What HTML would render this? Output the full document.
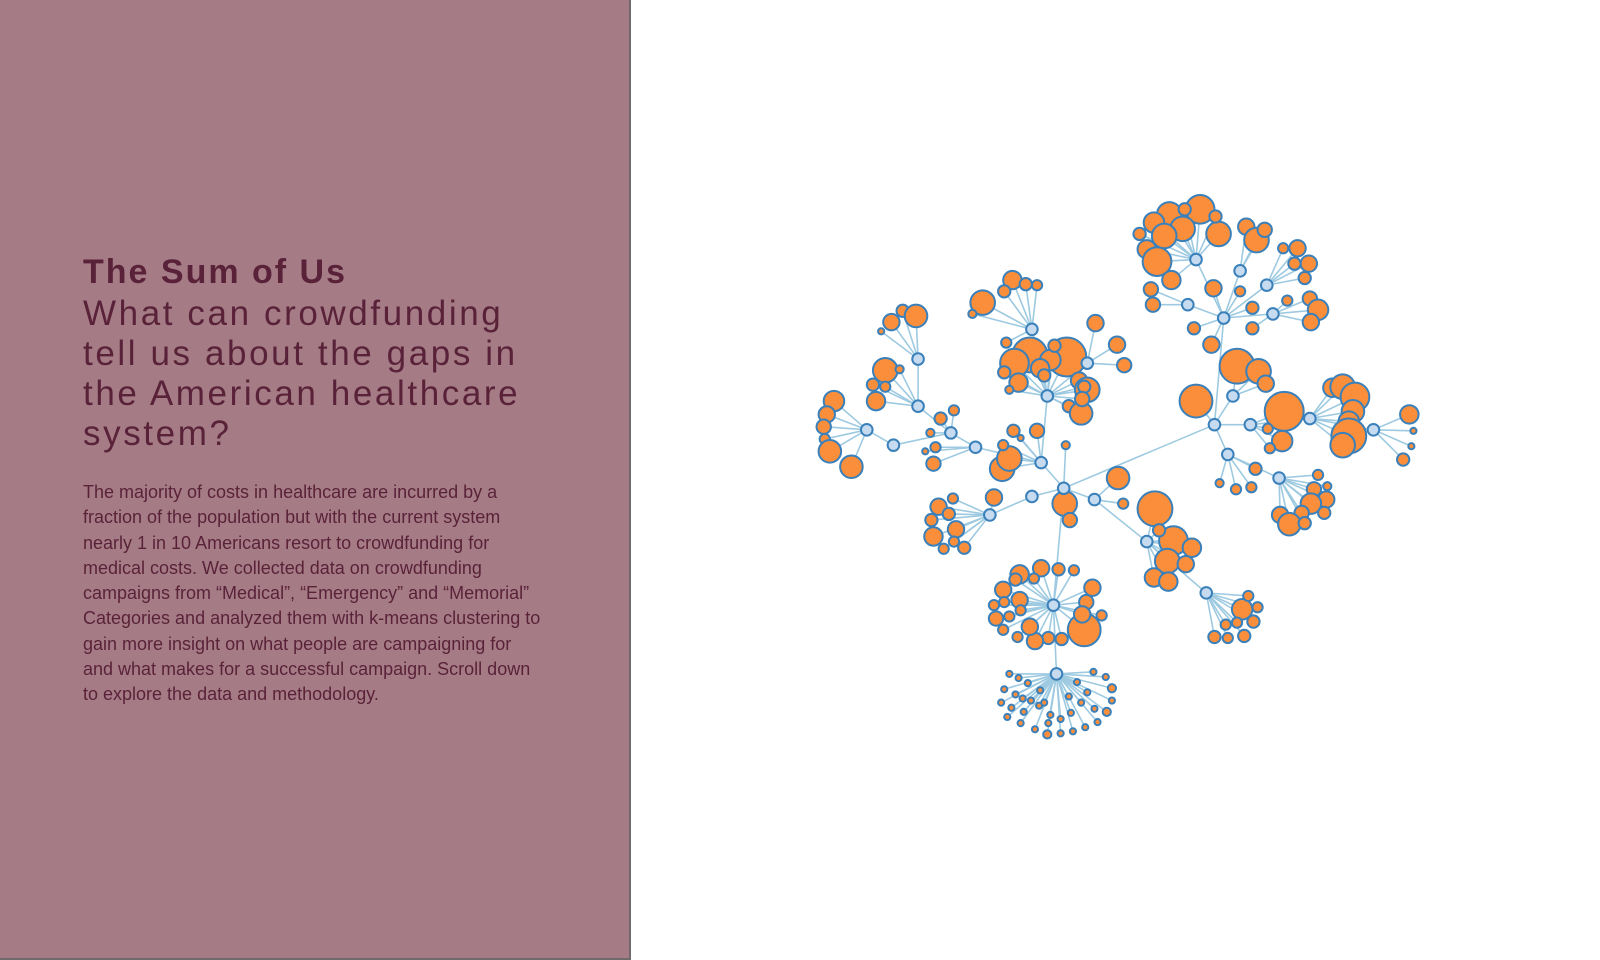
<!DOCTYPE html>
<html><head><meta charset="utf-8">
<style>
html,body{margin:0;padding:0;width:1600px;height:960px;overflow:hidden;background:#fff;}
#panel{position:absolute;left:0;top:0;width:629px;height:958px;background:#a57c86;border-right:2px solid #6f6a6b;border-bottom:2px solid #6f6a6b;}
#title{position:absolute;left:83px;top:253px;font:bold 34px "Liberation Sans",sans-serif;color:#5a2239;margin:0;letter-spacing:2px;}
#sub{position:absolute;left:83px;top:294px;white-space:nowrap;font:35px/40px "Liberation Sans",sans-serif;color:#5a2239;margin:0;letter-spacing:2.6px;}
#body{position:absolute;left:83px;top:480px;white-space:nowrap;font:18px/25.3px "Liberation Sans",sans-serif;color:#5a2239;margin:0;}
svg{position:absolute;left:0;top:0;}
</style></head><body>
<div id="panel">
<h1 id="title">The Sum of Us</h1>
<h2 id="sub" style="font-weight:normal">What can crowdfunding<br>tell us about the gaps in<br>the American healthcare<br>system?</h2>
<p id="body">The majority of costs in healthcare are incurred by a<br>fraction of the population but with the current system<br>nearly 1 in 10 Americans resort to crowdfunding for<br>medical costs. We collected data on crowdfunding<br>campaigns from “Medical”, “Emergency” and “Memorial”<br>Categories and analyzed them with k-means clustering to<br>gain more insight on what people are campaigning for<br>and what makes for a successful campaign. Scroll down<br>to explore the data and methodology.</p>
</div>
<svg id="net" width="1600" height="960"></svg>
<script>
// hubs: [x, y, parentIndex]
const hubs=[[1043,479,-1],[1190,417,0],[1199,313,1],[1172,256,2],[1215,267,2],[1241,281,2],[1247,309,2],[1164,300,2],[1208,389,1],[1225,417,1],[1283,411,9],[1345,422,10],[1203,446,1],[1253,469,12],[1073,490,0],[1124,531,14],[1182,581,15],[1012,487,0],[971,505,17],[1021,454,0],[957,439,19],[933,425,20],[901,399,21],[901,353,22],[877,437,21],[851,422,24],[1027,389,19],[1012,324,26],[1066,357,26],[1033,593,0],[1036,660,29]];
// leaves: [x, y, radius, hubIndex]
const leaves=[
[1176,207,14,3],[1146,212,12,3],[1131,220,10,3],[1159,226,12,3],[1141,233,12,3],[1194,231,12,3],[1124,246,9,3],[1134,258,14,3],[1161,207,6,3],[1148,276,9,3],[1128,285,7,7],[1130,300,7,7],[1191,214,6,3],[1117,231,6,3],
[1221,224,8,4],[1231,237,12,4],[1239,227,7,4],[1215,287,5,2],
[1257,245,5,5],[1271,245,8,5],[1282,260,8,5],[1268,260,6,5],[1278,274,6,5],
[1283,294,7,6],[1291,305,10,6],[1284,317,8,6],[1261,296,5,6],
[1170,323,6,2],[1189,284,8,2],[1227,303,6,2],[1227,323,6,6],[1187,339,8,2],
[1212,360,17,8],[1233,365,12,8],[1240,377,8,8],[1172,394,16,1],
[1258,404,19,9],[1256,433,10,9],[1305,381,9,10],[1315,380,12,10],[1327,390,14,10],[1325,404,11,10],[1321,414,10,10],[1321,428,17,10],[1315,437,12,10],[1244,440,5,9],[1242,421,5,9],
[1380,407,9,11],[1384,423,3,11],[1382,438,3,11],[1374,451,6,11],
[1195,474,4,12],[1211,480,5,12],[1226,478,5,12],[1230,460,6,12],
[1291,466,5,13],[1300,477,4,13],[1287,480,7,13],[1299,490,8,13],[1284,494,10,13],[1275,503,7,13],[1297,503,6,13],[1254,505,8,13],[1263,514,11,13],[1278,513,6,13],
[1096,469,11,14],[1101,494,5,14],
[1132,499,17,15],[1150,530,14,15],[1168,537,9,15],[1144,550,12,15],[1131,566,9,15],[1145,570,9,15],[1162,553,8,15],[1136,520,6,15],
[1217,597,10,16],[1223,584,5,16],[1228,609,6,16],[1212,610,5,16],[1201,612,5,16],[1190,624,6,16],[1203,625,5,16],[1219,623,6,16],[1232,595,5,16],
[1044,494,12,0],[1049,510,7,0],[1045,437,4,0],
[975,488,8,18],[921,497,8,18],[935,489,5,18],[931,504,6,18],[914,510,6,18],[938,519,8,18],[916,526,9,18],[926,538,5,18],[936,531,5,18],[946,537,6,18],
[983,460,12,19],[990,450,12,19],[994,423,6,19],[1017,423,7,19],[984,437,5,19],[1001,430,3,19],
[918,439,5,20],[916,455,7,20],[908,443,3,20],
[936,403,5,21],[923,411,6,21],[913,425,4,21],
[860,394,9,22],[869,364,12,22],[857,378,6,22],[869,380,5,22],[883,363,4,22],
[875,317,8,23],[886,306,6,23],[899,311,11,23],[865,326,3,23],
[819,394,10,25],[812,407,8,25],[809,419,7,25],[810,431,5,25],[815,443,11,25],[836,458,11,25],
[1046,351,19,26],[1010,349,17,26],[995,357,14,26],[1030,354,10,26],[1020,362,9,26],[999,376,9,26],[1024,369,6,26],[1058,374,8,26],[1066,383,12,26],[1063,380,6,26],[1048,399,6,26],[1060,406,11,26],[1061,392,7,26],[990,383,4,26],[985,366,6,26],[1034,340,6,26],
[964,298,12,27],[993,276,9,27],[985,287,6,27],[1006,280,6,27],[1017,281,5,27],[954,309,4,27],[987,337,5,27],
[1074,318,8,28],[1095,339,8,28],[1102,359,7,28],
[1000,563,9,29],[1021,557,8,29],[1038,558,6,29],[1053,559,5,29],[1071,576,8,29],[1065,590,7,29],[1080,603,5,29],[1063,617,16,29],[1041,626,6,29],[1028,625,6,29],[1015,628,8,29],[998,624,5,29],[984,617,5,29],[977,606,7,29],[975,593,5,29],[984,578,8,29],[996,568,6,29],[1000,588,8,29],[1010,614,8,29],[990,604,5,29],[1061,602,8,29],[1014,567,5,29],[1001,598,5,29],[985,590,5,29],
[990,660,3,30],[999,664,3,30],[1008,669,3,30],[985,675,3,30],[996,680,3,30],[1011,686,3,30],[982,688,3,30],[992,693,3,30],[1004,697,3,30],[1019,691,3,30],[988,702,3,30],[1001,708,3,30],[1015,714,3,30],[1027,719,4,30],[1040,718,3,30],[1052,716,3,30],[1064,712,3,30],[1076,707,3,30],[1085,697,4,30],[1090,686,3,30],[1090,674,4,30],[1084,663,3,30],[1072,658,3,30],[1066,678,3,30],[1060,688,3,30],[1050,698,3,30],[1040,704,3,30],[1030,700,3,30],[1024,688,3,30],[1020,676,3,30],[1048,682,3,30],[1073,694,3,30],[1056,668,3,30],[1028,708,3,30],[1003,684,3,30]
];
const S=1.0256;
const sx=v=>v*S-6, sy=v=>v*S-3;
const NS="http://www.w3.org/2000/svg";
const svg=document.getElementById('net');
const gE=document.createElementNS(NS,'g'), gN=document.createElementNS(NS,'g');
svg.appendChild(gE);svg.appendChild(gN);
function line(a,b){
  const l=document.createElementNS(NS,'line');
  l.setAttribute('x1',sx(a[0]));l.setAttribute('y1',sy(a[1]));
  l.setAttribute('x2',sx(b[0]));l.setAttribute('y2',sy(b[1]));
  l.setAttribute('stroke','#9ecae1');l.setAttribute('stroke-width','1.6');
  
  
  gE.appendChild(l);
}
hubs.forEach(h=>{ if(h[2]>=0) line(h,hubs[h[2]]); });
leaves.forEach(n=>line(n,hubs[n[3]]));
leaves.forEach(n=>{
  const c=document.createElementNS(NS,'circle');
  c.setAttribute('cx',sx(n[0]));c.setAttribute('cy',sy(n[1]));c.setAttribute('r',n[2]*S);
  c.setAttribute('fill','#fa8e3b');c.setAttribute('stroke','#3a80ba');c.setAttribute('stroke-width','2');
  
  
  gN.appendChild(c);
});
hubs.forEach(h=>{
  const c=document.createElementNS(NS,'circle');
  c.setAttribute('cx',sx(h[0]));c.setAttribute('cy',sy(h[1]));c.setAttribute('r',5.8);
  c.setAttribute('fill','#c6dbef');c.setAttribute('stroke','#3a80ba');c.setAttribute('stroke-width','2');
  
  
  gN.appendChild(c);
});
</script>
</body></html>
